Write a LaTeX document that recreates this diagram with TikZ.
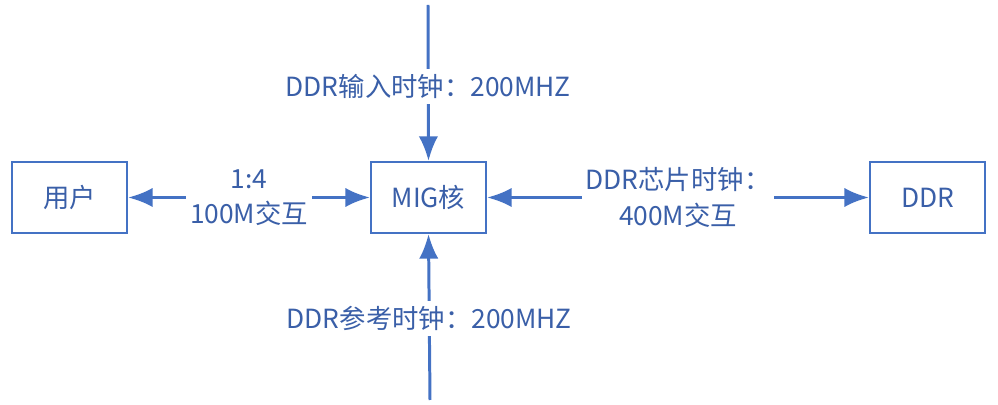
\documentclass[tikz,border=0pt]{standalone}
\usepackage{fontspec}
\setmainfont{Noto Sans CJK SC}
\usetikzlibrary{arrows.meta}
\definecolor{lineblue}{HTML}{4472C4}
\definecolor{textblue}{HTML}{3A5FA8}

\begin{document}
\begin{tikzpicture}[x=0.02cm, y=-0.02cm, line width=1.7pt, >={Latex[length=14pt,width=11pt]},
    box/.style={draw=lineblue, line width=1.2pt, minimum width=2.3cm, minimum height=1.42cm, text=textblue, font=\fontsize{15}{18}\selectfont},
    lbl/.style={fill=white, text=textblue, font=\fontsize{15}{20}\selectfont, align=center, inner sep=3pt}]
        \useasboundingbox (0,0) rectangle (998,405);
        \node[box] (user) at (69.5,197.5) {用户};
        \node[box] (mig) at (428.5,197.5) {MIG核};
        \node[box] (ddr) at (927.5,197.5) {DDR};
        \coordinate (top) at (428,5);
        \coordinate (bot) at (430,400);

        \draw[lineblue,->] (top) -- (mig.north) node[pos=0.52,lbl] {DDR输入时钟：200MHZ};
        \draw[lineblue,->] (bot) -- (mig.south) node[pos=0.49,lbl] {DDR参考时钟：200MHZ};
        \draw[lineblue,<->] (user) -- (mig) node[midway,lbl,inner xsep=2pt] {1:4\\100M交互};
        \draw[lineblue,<->] (mig) -- (ddr) node[midway,lbl,inner xsep=2pt] {DDR芯片时钟：\\400M交互};
    \end{tikzpicture}
\end{document}
